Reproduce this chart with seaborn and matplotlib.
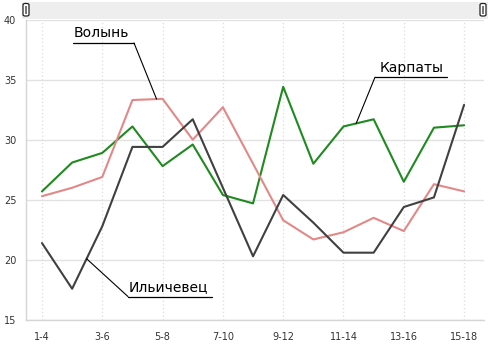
import numpy as np
import pandas as pd
import matplotlib
matplotlib.use("Agg")
import matplotlib.pyplot as plt
from matplotlib.patches import Rectangle, FancyBboxPatch
import seaborn as sns

# ---- data ----
periods = ["1-4", "2-5", "3-6", "4-7", "5-8", "6-9", "7-10", "8-11",
           "9-12", "10-13", "11-14", "12-15", "13-16", "14-17", "15-18"]
karpaty = [25.7, 28.1, 28.9, 31.1, 27.8, 29.6, 25.4, 24.7,
           34.4, 28.0, 31.1, 31.7, 26.5, 31.0, 31.2]
volyn = [25.3, 26.0, 26.9, 33.3, 33.4, 30.0, 32.7, 28.0,
         23.3, 21.7, 22.3, 23.5, 22.4, 26.3, 25.7]
illichivets = [21.4, 17.6, 22.8, 29.4, 29.4, 31.7, 26.0, 20.3,
               25.4, 23.1, 20.6, 20.6, 24.4, 25.2, 32.9]
series_names = ["Карпаты", "Волынь", "Ильичевец"]
series_colors = ["#1f8a1f", "#e38888", "#404040"]
y_ticks = [15, 20, 25, 30, 35, 40]
x_label_every = 2

idx = np.arange(len(periods))
df = pd.DataFrame({
    "x": np.concatenate([idx, idx, idx]),
    "value": np.concatenate([karpaty, volyn, illichivets]),
    "team": np.repeat(series_names, len(periods)),
})

sns.set_style("white")
plt.rcParams["font.family"] = ["DejaVu Sans"]

W, H = 489, 353
fig = plt.figure(figsize=(W / 100, H / 100), dpi=100)
fig.patch.set_facecolor("white")
ax = fig.add_axes([26 / W, 1 - 320 / H, (484 - 26) / W, (320 - 19.5) / H])

grid_c = "#e2e2e2"
for yv in y_ticks:
    ax.axhline(yv, color=grid_c, lw=1.0, zorder=0)
for i in idx[::x_label_every]:
    ax.axvline(i, color="#dcdcdc", lw=0.9, ls=(0, (1, 2)), zorder=0)

sns.lineplot(data=df, x="x", y="value", hue="team", hue_order=series_names,
             palette=series_colors, linewidth=1.5, legend=False, ax=ax,
             zorder=3)

ax.set_xlim(-0.53, 14.66)
ax.set_ylim(15, 40)
ax.set_yticks(y_ticks)
ax.set_yticklabels([str(v) for v in y_ticks])
ax.set_xticks(idx[::x_label_every])
ax.set_xticklabels(periods[::x_label_every])
ax.set_xlabel("")
ax.set_ylabel("")
ax.tick_params(axis="both", labelsize=7, colors="#333333", length=5,
               width=0.8, color=grid_c, pad=2)
ax.tick_params(axis="x", length=0, pad=9)
for s in ["top", "right"]:
    ax.spines[s].set_visible(False)
ax.spines["left"].set_color("#d5d5d5")
ax.spines["bottom"].set_color("#d5d5d5")
ax.spines["left"].set_linewidth(1.0)
ax.spines["bottom"].set_linewidth(1.0)


def px2x(px):
    return (px - 42) / 30.15


def label(text, ux0, ux1, uy, tx, anchor_x, series):
    ay = float(np.interp(anchor_x, idx, series))
    ax.plot([px2x(ux0), px2x(ux1)], [uy, uy], color="black", lw=0.9,
            zorder=5, clip_on=False)
    lx = px2x(ux0) if anchor_x < px2x(ux0) else px2x(ux1)
    ax.plot([lx, anchor_x], [uy, ay], color="black", lw=0.8, zorder=5,
            clip_on=False)
    ax.text(px2x(tx), uy + 0.22, text, fontsize=10, color="black",
            ha="left", va="bottom", zorder=6)


label("Волынь", 73, 134, 38.05, 74, 3.80, volyn)
label("Карпаты", 375, 447, 35.2, 380, 10.42, karpaty)
label("Ильичевец", 128, 212, 16.95, 129, 1.48, illichivets)

# ---- navigator / scrollbar strip on top ----
fig.patches.append(Rectangle((22 / W, 1 - 18.5 / H), (489 - 22) / W, 16.5 / H,
                             transform=fig.transFigure, facecolor="#eeeeee",
                             edgecolor="none", zorder=0))
for hx in (23, 480):
    fig.patches.append(FancyBboxPatch((hx / W, 1 - 16 / H), 6 / W, 12.5 / H,
                                      boxstyle="round,pad=0,rounding_size=0.004",
                                      transform=fig.transFigure,
                                      facecolor="white", edgecolor="#222222",
                                      lw=0.9, zorder=2))
    fig.patches.append(Rectangle(((hx + 1.8) / W, 1 - 13.5 / H), 2.6 / W, 7.5 / H,
                                 transform=fig.transFigure,
                                 facecolor="#777777", edgecolor="none",
                                 zorder=3))

fig.savefig("out.png", dpi=100)
